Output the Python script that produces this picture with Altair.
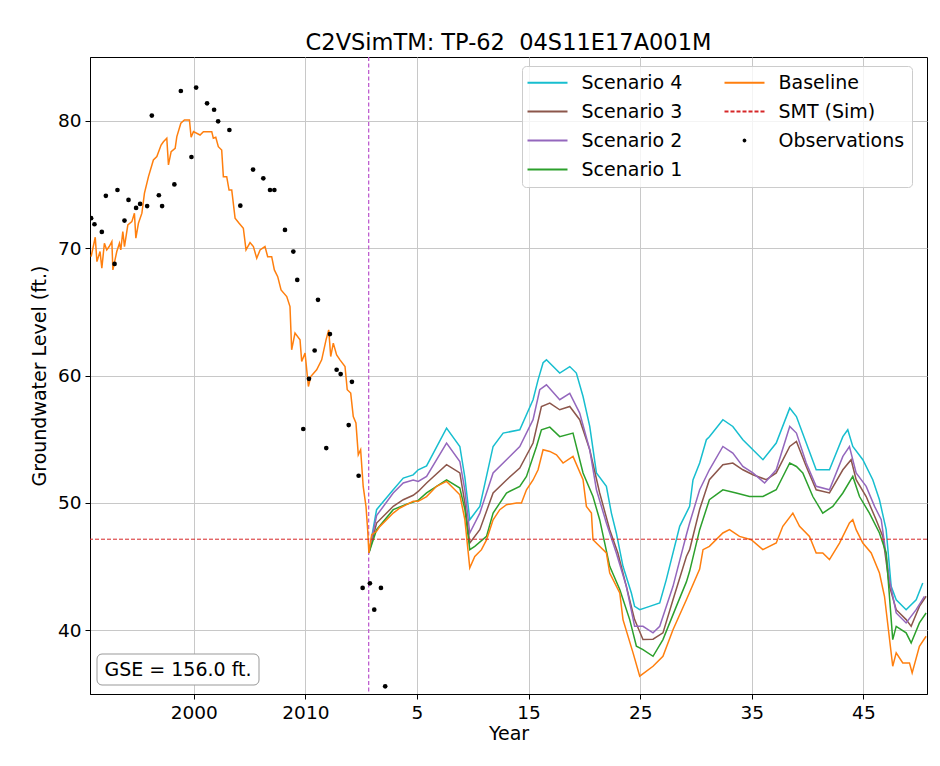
import altair as alt
import pandas as pd

# ---------------- data ----------------
obs_year = [1990.8, 1991.1, 1991.76, 1992.12, 1992.9, 1993.16, 1993.79, 1994.15, 1994.83, 1995.19,
            1995.82, 1996.24, 1996.87, 1997.16, 1998.26, 1998.84, 1999.79, 2000.21, 2001.19, 2001.82,
            2002.18, 2003.19, 2004.17, 2005.31, 2006.23, 2006.83, 2007.22, 2008.17, 2008.92, 2009.27,
            2009.81, 2010.32, 2010.83, 2011.13, 2011.87, 2012.2, 2012.8, 2013.16, 2013.88, 2014.17,
            2014.77, 2015.13, 2015.78, 2016.17, 2016.77, 2017.15]
obs_level = [72.35, 71.87, 71.27, 74.1, 68.76, 74.56, 72.16, 73.78, 73.15, 73.47,
             73.3, 80.4, 74.15, 73.3, 75.0, 82.33, 77.15, 82.6, 81.36, 80.86,
             79.95, 79.27, 73.33, 76.16, 75.48, 74.56, 74.56, 71.43, 69.73, 67.5,
             55.8, 59.74, 61.96, 65.94, 54.3, 63.25, 60.45, 60.11, 56.11, 59.5,
             52.13, 43.33, 43.69, 41.62, 43.33, 35.6]

base_year = [1990.8, 1991.17, 1991.32, 1991.6, 1991.76, 1991.99, 1992.2, 1992.42, 1992.66, 1992.75,
             1993.1, 1993.34, 1993.46, 1993.64, 1993.79, 1994.09, 1994.45, 1994.68, 1994.81, 1995.04,
             1995.35, 1995.58, 1995.94, 1996.38, 1996.69, 1997.07, 1997.28, 1997.58, 1997.73, 1997.97,
             1998.33, 1998.48, 1998.84, 1999.16, 1999.61, 1999.76, 1999.97, 2000.56, 2000.86, 2001.61,
             2001.75, 2001.97, 2002.2, 2002.5, 2002.65, 2002.95, 2003.16, 2003.4, 2003.7, 2004.06,
             2004.44, 2004.68, 2005.04, 2005.34, 2005.64, 2005.94, 2006.38, 2006.62, 2006.98, 2007.22,
             2007.52, 2007.82, 2008.33, 2008.62, 2008.77, 2009.07, 2009.52, 2009.67, 2009.97, 2010.27,
             2010.48, 2011.01, 2011.46, 2011.85, 2012.09, 2012.27, 2012.5, 2012.8, 2013.1, 2013.55,
             2013.75, 2014.06, 2014.29, 2014.53, 2014.74, 2014.95, 2015.18, 2015.43, 2015.58, 2015.69,
             2015.94, 2016.38, 2016.68, 2017.28, 2017.87, 2018.47, 2019.07, 2019.66, 2020.11, 2020.86,
             2021.75, 2022.65, 2023.24, 2023.84, 2024.29, 2024.73, 2025.18, 2025.78, 2026.23, 2026.82,
             2027.42, 2028.02, 2028.92, 2029.36, 2029.81, 2030.4, 2030.85, 2031.3, 2031.9, 2032.5,
             2033.09, 2033.98, 2034.88, 2035.18, 2035.63, 2035.77, 2036.97, 2037.27, 2038.17, 2038.46,
             2039.36, 2039.96, 2041.15, 2042.04, 2042.94, 2044.14, 2045.33, 2045.63, 2046.2, 2047.41,
             2048.0, 2048.9, 2049.95, 2050.99, 2052.19, 2052.78, 2053.68, 2053.98, 2054.28, 2055.17,
             2055.77, 2056.36, 2056.96, 2057.86, 2058.75, 2059.05, 2059.35, 2059.95, 2060.7, 2061.44,
             2061.89, 2062.63, 2062.94, 2063.53, 2064.13, 2064.37, 2065.02, 2065.62]
base_level = [69.33, 70.85, 68.94, 69.73, 68.42, 70.38, 69.86, 70.12, 70.51, 68.29,
              69.73, 70.38, 69.86, 71.3, 70.12, 71.82, 72.08, 72.74, 70.78, 71.95,
              72.74, 74.31, 75.61, 76.92, 77.18, 78.09, 78.35, 78.62, 76.53, 77.57,
              77.83, 78.75, 79.8, 80.05, 80.05, 78.7, 79.14, 78.88, 79.14, 79.14,
              78.62, 78.7, 77.96, 77.7, 75.61, 75.61, 74.56, 74.56, 72.35, 71.95,
              71.56, 69.86, 70.43, 70.12, 69.2, 69.86, 70.12, 69.33, 69.33, 68.29,
              67.76, 66.72, 66.2, 65.41, 62.02, 63.33, 62.8, 61.1, 61.76, 59.14,
              59.92, 60.45, 61.23, 62.8, 63.58, 61.49, 62.54, 61.62, 61.23, 60.71,
              58.88, 58.62, 56.78, 56.27, 53.78, 54.17, 51.29, 49.73, 47.9, 46.07,
              47.5, 47.77, 48.16, 48.68, 49.2, 49.6, 49.86, 50.12, 50.12, 50.5,
              51.3, 51.69, 51.17, 50.64, 48.68, 44.9, 45.8, 46.33, 47.1, 48.68,
              49.47, 49.86, 50.0, 50.0, 51.03, 51.8, 52.6, 54.17, 54.04, 53.78,
              53.13, 53.65, 51.82, 49.73, 49.2, 47.11, 46.07, 44.5, 42.93, 40.84,
              38.23, 36.4, 37.18, 37.96, 40.05, 42.4, 44.8, 46.33, 46.59, 47.64,
              47.9, 47.37, 47.11, 46.33, 46.85, 48.16, 49.2, 48.68, 48.16, 47.37,
              46.07, 46.07, 45.55, 46.85, 48.42, 48.68, 47.9, 46.85, 46.07, 44.5,
              42.67, 37.18, 38.23, 37.44, 37.44, 36.66, 38.75, 39.53]

s1_year = [2015.69, 2016.38, 2017.87, 2019.07, 2020.11, 2020.86, 2022.65, 2023.84, 2024.29, 2024.73,
           2025.18, 2026.23, 2026.82, 2028.02, 2029.21, 2029.81, 2030.71, 2031.15, 2031.9, 2032.79,
           2033.98, 2034.88, 2035.77, 2036.37, 2037.27, 2038.17, 2039.06, 2039.66, 2040.25, 2041.15,
           2042.04, 2043.24, 2044.14, 2044.43, 2045.33, 2046.2, 2047.41, 2048.6, 2049.8, 2051.0,
           2052.19, 2053.4, 2054.0, 2054.57, 2055.47, 2056.36, 2057.26, 2058.16, 2059.05, 2059.65,
           2060.54, 2061.44, 2062.04, 2062.63, 2062.94, 2063.83, 2064.28, 2065.02, 2065.62]
s1_level = [46.07, 47.9, 49.47, 49.9, 50.2, 50.78, 51.8, 51.17, 49.5, 46.33,
            46.59, 47.37, 49.2, 50.78, 51.3, 52.08, 54.43, 55.74, 55.95, 55.2,
            55.48, 52.35, 50.5, 48.68, 45.02, 43.2, 40.84, 38.75, 38.49, 37.96,
            39.27, 41.88, 43.8, 44.63, 47.9, 50.25, 51.03, 50.78, 50.5, 50.5,
            51.03, 53.13, 52.86, 52.35, 50.5, 49.2, 49.73, 50.78, 52.08, 50.5,
            49.2, 47.64, 46.07, 39.27, 40.31, 39.8, 39.01, 40.58, 41.36]

s2_year = [2015.69, 2016.38, 2017.87, 2018.77, 2019.66, 2020.11, 2020.86, 2022.65, 2023.84, 2024.29,
           2024.73, 2025.63, 2026.82, 2028.02, 2029.21, 2030.4, 2031.0, 2031.6, 2032.79, 2033.69,
           2034.58, 2035.48, 2036.08, 2036.97, 2037.86, 2038.76, 2039.5, 2040.25, 2041.15, 2041.75,
           2042.94, 2044.14, 2044.43, 2045.33, 2046.2, 2047.41, 2048.3, 2049.2, 2050.1, 2051.15,
           2052.19, 2053.4, 2054.0, 2054.88, 2055.77, 2056.96, 2058.16, 2058.75, 2059.35, 2060.25,
           2061.0, 2061.6, 2062.34, 2062.94, 2063.83, 2064.73, 2065.47]
s2_level = [46.07, 49.0, 50.78, 51.56, 51.8, 51.69, 52.08, 54.7, 53.25, 51.0,
            47.64, 49.2, 52.35, 53.39, 54.43, 56.53, 58.88, 59.27, 58.1, 58.6,
            57.05, 54.17, 51.03, 48.42, 46.07, 43.45, 40.31, 40.31, 39.8, 40.31,
            43.45, 47.5, 48.42, 51.03, 52.6, 54.43, 53.91, 52.86, 52.35, 51.56,
            52.6, 56.0, 55.48, 53.13, 51.3, 51.03, 53.65, 54.43, 52.35, 51.3,
            49.73, 48.68, 43.98, 41.36, 40.58, 41.62, 42.67]

s3_year = [2015.69, 2016.38, 2017.87, 2018.77, 2019.66, 2020.11, 2020.86, 2022.65, 2023.84, 2024.29,
           2024.73, 2025.63, 2026.82, 2028.02, 2029.21, 2030.4, 2031.15, 2031.9, 2032.79, 2033.69,
           2034.58, 2035.48, 2036.37, 2037.27, 2038.0, 2038.76, 2039.5, 2040.25, 2041.15, 2042.04,
           2042.94, 2044.14, 2044.43, 2045.33, 2046.2, 2047.41, 2048.3, 2049.2, 2050.1, 2051.3,
           2052.19, 2053.4, 2054.0, 2054.88, 2055.77, 2056.96, 2058.16, 2058.9, 2059.35, 2060.25,
           2061.14, 2061.74, 2062.34, 2062.94, 2063.83, 2064.28, 2065.02, 2065.62]
s3_level = [46.07, 48.42, 49.73, 50.25, 50.6, 50.9, 51.56, 53.0, 52.35, 50.0,
            46.85, 47.9, 50.78, 51.8, 52.74, 54.7, 57.57, 57.84, 57.31, 57.57,
            56.53, 54.17, 50.78, 47.9, 46.07, 43.45, 40.84, 39.27, 39.3, 39.8,
            42.4, 45.8, 46.33, 49.5, 51.82, 53.0, 53.13, 52.6, 52.21, 51.82,
            52.35, 54.43, 54.82, 52.86, 51.03, 50.78, 52.6, 53.39, 51.82, 50.5,
            48.68, 47.37, 43.45, 41.62, 40.84, 40.31, 41.88, 42.67]

s4_year = [2015.69, 2016.38, 2017.87, 2018.77, 2019.66, 2020.11, 2020.86, 2022.65, 2023.84, 2024.29,
           2024.73, 2025.63, 2026.82, 2027.72, 2029.21, 2030.4, 2030.85, 2031.3, 2031.6, 2032.79,
           2033.69, 2034.28, 2034.88, 2035.48, 2036.08, 2036.97, 2037.42, 2037.86, 2038.46, 2039.21,
           2039.5, 2039.96, 2040.85, 2041.75, 2042.34, 2043.54, 2044.43, 2044.73, 2045.33, 2045.93,
           2046.2, 2047.41, 2048.3, 2049.2, 2050.1, 2051.0, 2052.19, 2053.4, 2054.0, 2054.88,
           2055.77, 2056.96, 2058.16, 2058.6, 2059.05, 2059.95, 2060.84, 2061.44, 2062.04, 2062.49,
           2062.94, 2063.83, 2064.73, 2065.32]
s4_level = [46.07, 49.47, 51.03, 51.95, 52.2, 52.6, 52.9, 55.87, 54.43, 52.0,
            48.68, 49.73, 54.43, 55.48, 55.74, 58.1, 59.66, 61.0, 61.23, 60.19,
            60.7, 60.19, 58.35, 56.0, 52.35, 51.3, 49.2, 47.64, 45.02, 42.93,
            41.88, 41.62, 41.88, 42.15, 43.98, 48.16, 49.73, 51.8, 53.13, 54.96,
            55.2, 56.53, 56.0, 54.96, 54.17, 53.39, 54.7, 57.44, 56.78, 54.7,
            52.6, 52.6, 55.2, 55.74, 54.43, 53.39, 51.82, 50.25, 47.9, 43.45,
            42.4, 41.62, 42.4, 43.72]

smt_level = 47.15
split_year = 2015.67
x_ticks = [2000, 2010, 2020, 2030, 2040, 2050, 2060]
y_ticks = [40, 50, 60, 70, 80]
legend_names = ["Scenario 4", "Scenario 3", "Scenario 2", "Scenario 1", "Baseline", "SMT (Sim)", "Observations"]
legend_colors = ["#17becf", "#8c564b", "#9467bd", "#2ca02c", "#ff7f0e", "#d62728", "#000000"]
title_text = "C2VSimTM: TP-62\u00a0 04S11E17A001M"
gse_text = "GSE = 156.0 ft."

FONT = "DejaVu Sans"

axis_style = dict(
    labelFont=FONT, labelFontSize=18.5, labelColor="black",
    titleFont=FONT, titleFontSize=19, titleFontWeight="normal", titleColor="black",
    grid=True, gridColor="#c8c8c8", gridWidth=1,
    domainColor="black", domainWidth=1, tickColor="black", tickSize=5, tickWidth=1,
    labelPadding=4,
)

x_scale = alt.Scale(domain=[1990.7, 2065.7], nice=False, zero=False)
y_scale = alt.Scale(domain=[35, 85], nice=False, zero=False)
x_axis = alt.Axis(values=x_ticks, title="Year", titlePadding=3,
                  labelExpr="datum.value <= 2010 ? format(datum.value, 'd') : format(datum.value - 2015, 'd')",
                  **axis_style)
y_axis = alt.Axis(values=y_ticks, title="Groundwater Level (ft.)", format="d", titlePadding=8,
                  **axis_style)

color_scale = alt.Scale(domain=legend_names, range=legend_colors)
# legend glyphs: long line for series, small dot for observations (unit-square paths)
line_path = "M-4,0L4,0"
dot_path = "M-0.2,0A0.2,0.2,0,1,0,0.2,0A0.2,0.2,0,1,0,-0.2,0Z"
legend = alt.Legend(
    title=None, orient="none", legendX=432, legendY=9, columns=2,
    symbolType=alt.ExprRef(f"datum.value === 'Observations' ? '{dot_path}' : '{line_path}'"),
    symbolDash=alt.ExprRef("datum.value === 'SMT (Sim)' ? [4, 2] : [1, 0]"),
    symbolSize=100, symbolStrokeWidth=1.8, symbolOffset=9,
    labelFont=FONT, labelFontSize=19, labelColor="black", labelOffset=24.5, labelLimit=0,
    columnPadding=37, rowPadding=9, padding=7,
    fillColor="rgba(255,255,255,0.8)", strokeColor="#cccccc", cornerRadius=4,
)

X = alt.X("year:Q", scale=x_scale, axis=x_axis)
Y = alt.Y("level:Q", scale=y_scale, axis=y_axis)

layers = []

vline = alt.Chart(pd.DataFrame({"year": [split_year]})).mark_rule(
    color="#bf5fd0", strokeDash=[4, 2.5], strokeWidth=1.3).encode(x=X)
layers.append(vline)

series = [("Scenario 4", s4_year, s4_level), ("Scenario 3", s3_year, s3_level),
          ("Scenario 2", s2_year, s2_level), ("Scenario 1", s1_year, s1_level),
          ("Baseline", base_year, base_level)]
for name, yrs, lv in series:
    df = pd.DataFrame({"year": yrs, "level": lv, "series": name})
    layers.append(alt.Chart(df).mark_line(strokeWidth=1.5, clip=True).encode(
        x=X, y=Y, color=alt.Color("series:N", scale=color_scale, legend=legend)))

smt = alt.Chart(pd.DataFrame({"level": [smt_level]})).mark_rule(
    color="#d62728", strokeDash=[4, 2], strokeWidth=1).encode(y=Y)
layers.append(smt)

obs = alt.Chart(pd.DataFrame({"year": obs_year, "level": obs_level})).mark_circle(
    size=22, color="black", opacity=1, clip=True).encode(x=X, y=Y)
layers.append(obs)

gse_df = pd.DataFrame({"t": [gse_text]})
gse_box = alt.Chart(gse_df).mark_rect(
    fill="white", stroke="#999999", strokeWidth=1, cornerRadius=5).encode(
    x=alt.value(7), x2=alt.value(169), y=alt.value(597), y2=alt.value(628))
gse_txt = alt.Chart(gse_df).mark_text(
    font=FONT, fontSize=19, color="black", align="center", baseline="middle").encode(
    x=alt.value(88), y=alt.value(613), text="t:N")
layers += [gse_box, gse_txt]

chart = alt.layer(*layers).properties(
    width=837, height=637,
    title=alt.TitleParams(title_text, font=FONT, fontSize=22.5, fontWeight="normal",
                          color="black", anchor="middle", offset=2),
    padding={"left": 82, "top": 49, "right": 4, "bottom": 55},
    autosize=alt.AutoSizeParams(type="none"),
    background="white",
).configure_view(stroke="black", strokeWidth=1)

chart.save("out.html", embed_options={"renderer": "svg", "actions": False})
